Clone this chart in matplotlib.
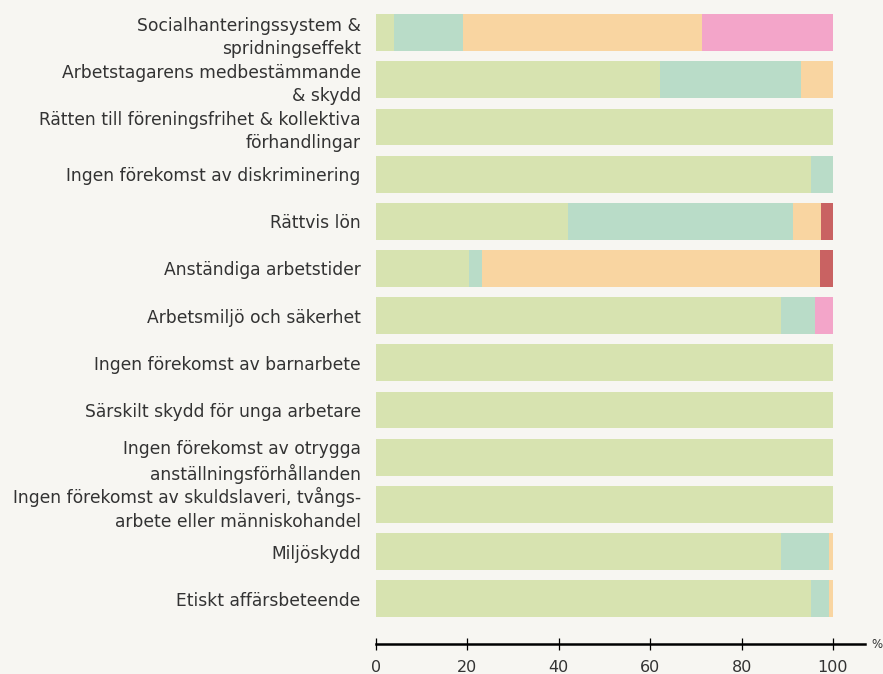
import matplotlib
matplotlib.use("Agg")
import matplotlib.pyplot as plt
import numpy as np

# Categories, top to bottom
categories = [
    "Socialhanteringssystem &\nspridningseffekt",
    "Arbetstagarens medbestämmande\n& skydd",
    "Rätten till föreningsfrihet & kollektiva\nförhandlingar",
    "Ingen förekomst av diskriminering",
    "Rättvis lön",
    "Anständiga arbetstider",
    "Arbetsmiljö och säkerhet",
    "Ingen förekomst av barnarbete",
    "Särskilt skydd för unga arbetare",
    "Ingen förekomst av otrygga\nanställningsförhållanden",
    "Ingen förekomst av skuldslaveri, tvångs-\narbete eller människohandel",
    "Miljöskydd",
    "Etiskt affärsbeteende",
]

# Stacked shares (%) per category, one list per colour segment
green = [3.9, 62.1, 100, 95.2, 42.1, 20.4, 88.6, 100, 100, 100, 100, 88.6, 95.2]
teal = [15.1, 30.9, 0, 4.8, 49.1, 2.8, 7.5, 0, 0, 0, 0, 10.5, 3.9]
orange = [52.3, 7.0, 0, 0, 6.1, 74.0, 0, 0, 0, 0, 0, 0.9, 0.9]
red = [0, 0, 0, 0, 2.7, 2.8, 0, 0, 0, 0, 0, 0, 0]
pink = [28.7, 0, 0, 0, 0, 0, 3.9, 0, 0, 0, 0, 0, 0]

xticks = [0, 20, 40, 60, 80, 100]

BG = "#f7f6f2"
TEXT = "#333333"
series = [
    (green, "#d7e3b0"),
    (teal, "#b9dcc8"),
    (orange, "#f9d5a1"),
    (red, "#c96262"),
    (pink, "#f3a5c9"),
]

plt.rcParams["font.family"] = ["DejaVu Sans"]

fig = plt.figure(figsize=(8.83, 6.74), dpi=100, facecolor=BG)
ax = fig.add_axes([0.4258, 0.0445, 0.5538, 0.9407], facecolor=BG)

y = np.arange(len(categories))
left = np.zeros(len(categories))
for values, color in series:
    vals = np.array(values, dtype=float)
    ax.barh(y, vals, left=left, height=0.78, color=color, linewidth=0)
    left += vals

ax.set_xlim(0, 107)
ax.set_ylim(12.96, -0.48)

ax.set_yticks(y)
ax.set_yticklabels(categories, fontsize=12.3, color=TEXT, linespacing=1.38)
ax.tick_params(axis="y", length=0, pad=11)

ax.set_xticks(xticks)
ax.set_xticklabels([str(t) for t in xticks], fontsize=11.5, color=TEXT)
ax.tick_params(axis="x", direction="inout", length=9, width=0.9,
               color="black", pad=7)

for side in ("top", "right", "left"):
    ax.spines[side].set_visible(False)
ax.spines["bottom"].set_linewidth(1.8)
ax.spines["bottom"].set_color("black")

ax.text(1.014, 0, "%", transform=ax.transAxes, fontsize=8.5, color=TEXT,
        ha="left", va="center")

fig.savefig("out.png", dpi=100, facecolor=BG)
